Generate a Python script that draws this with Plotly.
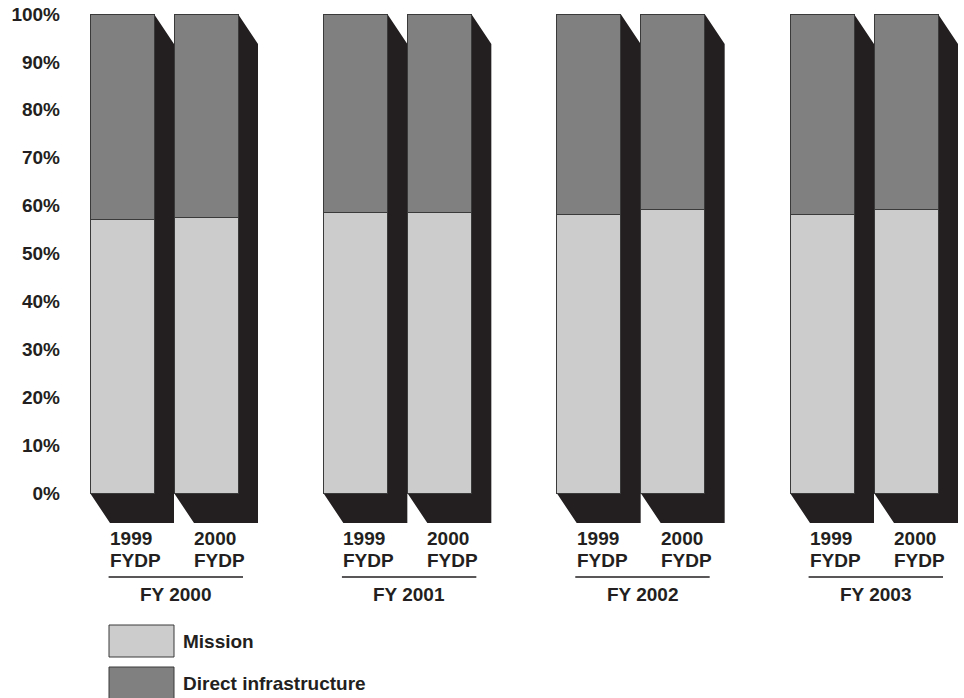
import plotly.graph_objects as go

# Budget share by fiscal year, comparing the 1999 and 2000 FYDP (percent)
fiscal_years = ["FY 2000", "FY 2001", "FY 2002", "FY 2003"]
plan_labels = [["1999", "FYDP"], ["2000", "FYDP"]]
mission_1999 = [57.2, 58.5, 58.2, 58.1]
mission_2000 = [57.6, 58.5, 59.1, 59.1]
y_ticks = [0, 10, 20, 30, 40, 50, 60, 70, 80, 90, 100]
y_tick_labels = ["0%", "10%", "20%", "30%", "40%", "50%", "60%", "70%", "80%", "90%", "100%"]
legend_names = ["Mission", "Direct infrastructure"]

# Page and plot-area geometry (pixels)
W, H = 964, 698
M_L, M_R, M_T, M_B = 62, 0, 14, 175
PLOT_W = W - M_L - M_R
PLOT_H = H - M_T - M_B
GROUP_PX = 233.333          # pixels between fiscal-year groups
GROUP0_PX = 164             # pixel position of the first group centre
DEPTH_X_PX, DEPTH_Y_PX = 20, 30   # 3-D extrusion of each column
LABEL_ROWS_PX = [538, 560]  # centre lines of the two-row column labels

x_min = (M_L - GROUP0_PX) / GROUP_PX
x_max = (W - M_R - GROUP0_PX) / GROUP_PX
y_per_px = 100 / (PLOT_H - DEPTH_Y_PX)
y_min = -DEPTH_Y_PX * y_per_px

bar_half_gap = 84 / GROUP_PX / 2
bar_w = 64 / GROUP_PX
dx = DEPTH_X_PX / GROUP_PX
dy = DEPTH_Y_PX * y_per_px

C_MISSION = "#cccccc"
C_INFRA = "#808080"
C_SHADOW = "#231f20"
C_EDGE = "#3a3a3a"
C_TEXT = "#231f20"
FONT = "Liberation Sans, Arial, sans-serif"
FS = 19
TEXT_FONT = dict(family=FONT, size=FS, color=C_TEXT, weight="bold")


def px_x(p):
    return (p - M_L) / PLOT_W


def px_y(p):
    return (H - M_B - p) / PLOT_H


xs, mission, infra = [], [], []
for g in range(len(fiscal_years)):
    for s, vals in ((-1, mission_1999), (1, mission_2000)):
        xs.append(g + s * bar_half_gap)
        mission.append(vals[g])
        infra.append(round(100 - vals[g], 1))

fig = go.Figure()
fig.add_trace(go.Bar(x=xs, y=mission, width=bar_w, name=legend_names[0],
                     marker=dict(color=C_MISSION, line=dict(color=C_EDGE, width=1))))
fig.add_trace(go.Bar(x=xs, y=infra, width=bar_w, name=legend_names[1],
                     marker=dict(color=C_INFRA, line=dict(color=C_EDGE, width=1))))

shapes, annotations = [], []

# dark extruded side and floor behind every column
for xc in xs:
    xl, xr = xc - bar_w / 2, xc + bar_w / 2
    path = (f"M {xl},0 L {xr},0 L {xr},100 L {xr + dx},{100 - dy} "
            f"L {xr + dx},{-dy} L {xl + dx},{-dy} Z")
    shapes.append(dict(type="path", path=path, xref="x", yref="y", layer="below",
                       fillcolor=C_SHADOW, line=dict(width=0)))

# column labels, group rule and fiscal-year label
for g, fy in enumerate(fiscal_years):
    lefts = []
    for s, rows in zip((-1, 1), plan_labels):
        xl = g + s * bar_half_gap - bar_w / 2 + dx
        lefts.append(xl)
        for row_text, row_px in zip(rows, LABEL_ROWS_PX):
            annotations.append(dict(x=xl - 0.008, y=px_y(row_px), xref="x", yref="paper",
                                    text=row_text, xanchor="left", yanchor="middle",
                                    showarrow=False, font=TEXT_FONT))
    x0 = lefts[0] - 0.006
    x1 = g + bar_half_gap + bar_w / 2 + 5 / GROUP_PX
    shapes.append(dict(type="line", xref="x", yref="paper", x0=x0, x1=x1,
                       y0=px_y(577), y1=px_y(577), line=dict(color=C_TEXT, width=1.5)))
    annotations.append(dict(x=(x0 + x1) / 2, y=px_y(594), xref="x", yref="paper", text=fy,
                            xanchor="center", yanchor="middle", showarrow=False,
                            font=TEXT_FONT))

# legend keys
for name, color, top in ((legend_names[0], C_MISSION, 625), (legend_names[1], C_INFRA, 667)):
    shapes.append(dict(type="rect", xref="paper", yref="paper",
                       x0=px_x(109), x1=px_x(174), y0=px_y(top + 32), y1=px_y(top),
                       fillcolor=color, line=dict(color=C_EDGE, width=1)))
    annotations.append(dict(x=px_x(181), y=px_y(top + 16), xref="paper", yref="paper",
                            text=name, xanchor="left", yanchor="middle", showarrow=False,
                            font=TEXT_FONT))

fig.update_layout(
    width=W, height=H,
    margin=dict(l=M_L, r=M_R, t=M_T, b=M_B),
    barmode="stack",
    showlegend=False,
    plot_bgcolor="white",
    paper_bgcolor="white",
    shapes=shapes,
    annotations=annotations,
    xaxis=dict(range=[x_min, x_max], visible=False, fixedrange=True),
    yaxis=dict(range=[y_min, 100], tickvals=y_ticks, ticktext=y_tick_labels,
               showgrid=False, zeroline=False, showline=False, ticks="",
               ticklabelstandoff=1, tickfont=TEXT_FONT, fixedrange=True),
)

fig.write_html("out.html")
